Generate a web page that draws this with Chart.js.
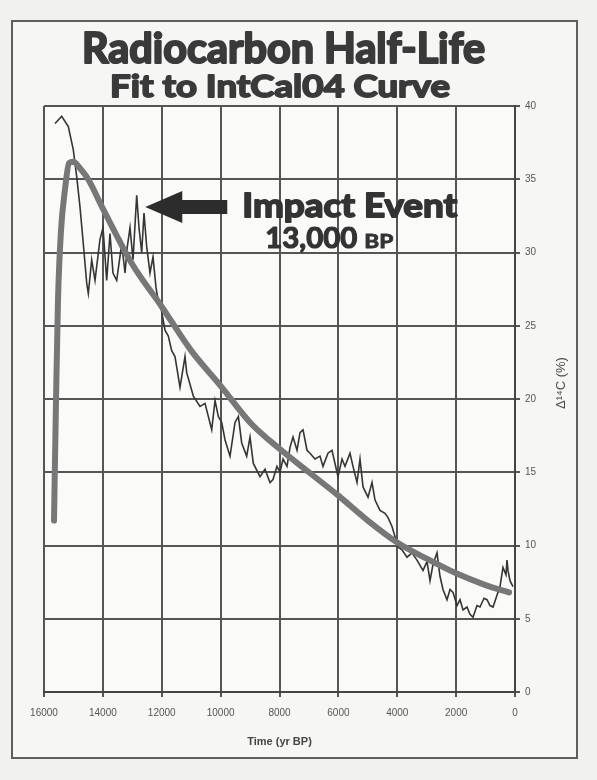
<!DOCTYPE html>
<html>
<head>
<meta charset="utf-8">
<script src="https://cdn.jsdelivr.net/npm/chart.js@4.4.1/dist/chart.umd.min.js"></script>
<style>
  html, body { margin: 0; padding: 0; background: #f1f1ef; }
</style>
</head>
<body>
<canvas id="c" width="597" height="780"></canvas>
<script>
// IntCal04 record (thin line): years BP and delta 14C (%)
const dataTime = [68, 170, 238, 272, 306, 408, 510, 612, 747, 849, 951, 1053, 1189, 1291, 1427, 1529,
  1631, 1766, 1868, 1970, 2106, 2208, 2310, 2446, 2548, 2650, 2786, 2887, 2989, 3125, 3329, 3499,
  3669, 3839, 3974, 4178, 4314, 4416, 4586, 4755, 4857, 4993, 5163, 5265, 5367, 5503, 5605, 5775,
  5877, 6013, 6115, 6217, 6353, 6522, 6624, 6794, 6964, 7066, 7201, 7303, 7405, 7541, 7643, 7745,
  7880, 7983, 8085, 8221, 8323, 8492, 8662, 8889, 9002, 9115, 9284, 9397, 9511, 9681, 9850, 9963,
  10077, 10190, 10303, 10530, 10700, 10927, 11153, 11210, 11323, 11380, 11550, 11663, 11777, 11890,
  12059, 12127, 12195, 12297, 12399, 12512, 12603, 12681, 12773, 12851, 12976, 13078, 13170, 13248,
  13360, 13530, 13656, 13758, 13870, 13995, 14098, 14267, 14380, 14495, 14549, 14665, 14777, 14890,
  15004, 15174, 15399, 15626];
const dataValue = [7.2, 7.6, 8.3, 9.0, 8.0, 8.5, 7.2, 6.6, 5.8, 5.9, 6.3, 6.4, 5.8, 5.9, 5.1, 5.3,
  5.8, 5.6, 6.3, 5.9, 6.8, 7.0, 6.3, 7.0, 7.9, 9.5, 8.7, 7.6, 8.9, 8.3, 9.0, 9.5,
  9.2, 9.7, 9.9, 11.3, 11.9, 12.2, 12.4, 13.1, 14.3, 13.3, 14.0, 15.9, 14.3, 15.4, 16.3, 15.4,
  15.9, 14.7, 15.6, 16.5, 16.3, 15.4, 16.1, 15.9, 16.3, 16.5, 17.9, 17.7, 16.5, 17.4, 16.7, 15.4,
  15.9, 15.0, 15.4, 14.5, 14.3, 15.2, 14.7, 15.6, 17.4, 16.1, 17.0, 18.8, 18.4, 16.1, 17.2, 18.4,
  18.8, 19.9, 17.9, 19.7, 19.5, 20.2, 21.8, 22.9, 21.5, 20.8, 22.9, 23.3, 24.3, 24.7,
  26.6, 26.8, 27.6, 29.7, 28.6, 30.4, 32.7, 30.0, 31.7, 33.9, 29.5, 31.7, 30.4, 28.6,
  30.6, 28.1, 28.6, 31.3, 28.1, 31.7, 30.9, 28.1, 29.5, 27.2, 27.9, 30.6, 33.1, 35.2,
  37.0, 38.6, 39.3, 38.8];

// half-life fit (thick line)
const fitTime = [200, 1000, 2000, 3000, 4000, 5000, 6000, 7000, 8000, 9000, 10000, 11000, 12000,
  13000, 14000, 14500, 14800, 15000, 15150, 15287, 15422, 15524, 15592, 15660];
const fitValue = [6.8, 7.3, 8.1, 9.1, 10.2, 11.7, 13.4, 15.0, 16.6, 18.4, 20.9, 23.3, 26.3,
  29.2, 33.0, 35.0, 35.8, 36.2, 36.1, 34.3, 31.5, 26.8, 19.9, 11.7];

const timeTicks = [0, 2000, 4000, 6000, 8000, 10000, 12000, 14000, 16000];
const deltaTicks = [0, 5, 10, 15, 20, 25, 30, 35, 40];

const dataPoints = dataTime.map((t, i) => ({ x: t, y: dataValue[i] }));
const fitPoints = fitTime.map((t, i) => ({ x: t, y: fitValue[i] }));

Chart.defaults.font.family = "'Liberation Sans', Arial, sans-serif";

// squeeze heavy text to the width it has in the scan
function fitText(ctx, str, left, base, size, width, heavy) {
  ctx.font = 'bold ' + size + 'px Lato, sans-serif';
  const k = width / ctx.measureText(str).width;
  ctx.save();
  ctx.translate(left, base);
  ctx.scale(k, 1);
  ctx.textAlign = 'left';
  ctx.textBaseline = 'alphabetic';
  ctx.fillText(str, 0, 0);
  ctx.strokeStyle = ctx.fillStyle;
  ctx.lineWidth = heavy;
  ctx.lineJoin = 'round';
  ctx.strokeText(str, 0, 0);
  ctx.restore();
}

const decor = {
  id: 'decor',
  beforeDraw(chart) {
    const { ctx, chartArea: a } = chart;
    ctx.save();
    ctx.fillStyle = '#f1f1ef';
    ctx.fillRect(0, 0, chart.width, chart.height);
    ctx.fillStyle = '#f6f6f4';
    ctx.fillRect(12, 21, 565, 737);
    ctx.strokeStyle = '#5e5e5e';
    ctx.lineWidth = 2;
    ctx.strokeRect(12, 21, 565, 737);
    ctx.fillStyle = '#fafaf8';
    ctx.fillRect(a.left, a.top, a.right - a.left, a.bottom - a.top);
    ctx.restore();
  },
  afterDraw(chart) {
    const { ctx } = chart;
    const xs = chart.scales.x, ys = chart.scales.y;
    ctx.save();
    ctx.fillStyle = '#3a3a3a';
    fitText(ctx, 'Radiocarbon Half-Life', 82, 63, 42, 403, 2.2);
    fitText(ctx, 'Fit to IntCal04 Curve', 110, 97, 31, 340, 1.8);

    // arrow pointing at the 13,000 BP spike
    const tx = xs.getPixelForValue(12560), ty = ys.getPixelForValue(33.1);
    ctx.fillStyle = '#2c2c2c';
    ctx.beginPath();
    ctx.moveTo(tx, ty);
    ctx.lineTo(tx + 37, ty - 16);
    ctx.lineTo(tx + 37, ty - 7);
    ctx.lineTo(tx + 82, ty - 7);
    ctx.lineTo(tx + 82, ty + 7);
    ctx.lineTo(tx + 37, ty + 7);
    ctx.lineTo(tx + 37, ty + 16);
    ctx.closePath();
    ctx.fill();

    ctx.fillStyle = '#333';
    fitText(ctx, 'Impact Event', tx + 97, ty + 10, 33, 215, 1.8);
    fitText(ctx, '13,000', tx + 120, ty + 41, 28, 92, 1.2);
    fitText(ctx, 'BP', tx + 219, ty + 41, 18, 29, 0.8);

    // right-hand axis title, reading upwards
    ctx.translate(561, 383);
    ctx.rotate(-Math.PI / 2);
    ctx.fillStyle = '#4a4a4a';
    ctx.font = "13px 'Liberation Sans', Arial, sans-serif";
    ctx.textAlign = 'center';
    ctx.textBaseline = 'middle';
    ctx.fillText('\u0394\u00B9\u2074C (%)', 0, 0);
    ctx.restore();
  }
};

new Chart(document.getElementById('c'), {
  type: 'line',
  data: {
    datasets: [
      {
        label: 'Fit',
        data: fitPoints,
        borderColor: '#777777',
        borderWidth: 6,
        pointRadius: 0,
        cubicInterpolationMode: 'monotone',
        borderCapStyle: 'round',
        borderJoinStyle: 'round',
        order: 0
      },
      {
        label: 'IntCal04',
        data: dataPoints,
        borderColor: '#353535',
        borderWidth: 1.6,
        pointRadius: 0,
        tension: 0,
        order: 1
      }
    ]
  },
  options: {
    responsive: false,
    devicePixelRatio: 1,
    animation: false,
    layout: { padding: { left: 44, right: 20, top: 106, bottom: 28 } },
    plugins: { legend: { display: false }, tooltip: { enabled: false } },
    scales: {
      x: {
        type: 'linear',
        reverse: true,
        min: 0,
        max: 16000,
        afterBuildTicks: s => { s.ticks = timeTicks.map(v => ({ value: v })); },
        afterFit: s => { s.height = 60; },
        grid: { color: '#555', lineWidth: 2, tickLength: 5, tickColor: '#555' },
        border: { color: '#444', width: 2 },
        ticks: { color: '#555', font: { size: 10 }, padding: 10, maxRotation: 0, callback: v => String(v) },
        title: {
          display: true,
          text: 'Time (yr BP)',
          color: '#444',
          font: { size: 11, weight: 'bold' },
          padding: { top: 4, bottom: 3 }
        }
      },
      y: {
        position: 'right',
        min: 0,
        max: 40,
        afterBuildTicks: s => { s.ticks = deltaTicks.map(v => ({ value: v })); },
        afterFit: s => { s.width = 62; },
        grid: { color: '#555', lineWidth: 2, tickLength: 5, tickColor: '#555' },
        border: { color: '#444', width: 2 },
        ticks: { color: '#555', font: { size: 10 }, padding: 5 }
      }
    }
  },
  plugins: [decor]
});
</script>
</body>
</html>
